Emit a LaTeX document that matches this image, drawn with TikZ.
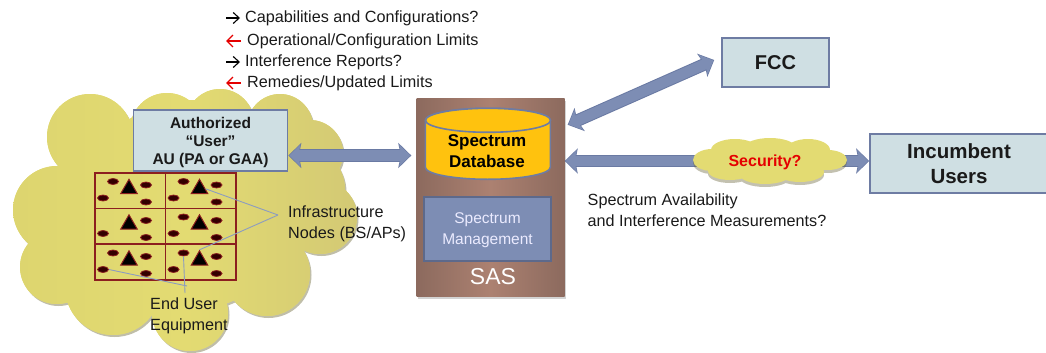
\documentclass[tikz,border=0pt]{standalone}
\usepackage{fontspec}
\setmainfont{Liberation Sans}
\usetikzlibrary{arrows.meta,shapes.geometric,shadows}
\definecolor{inkc}{HTML}{1A1A1A}
\definecolor{boxfill}{HTML}{CFDFE3}
\definecolor{boxedge}{HTML}{6E7CA3}
\definecolor{arrowblue}{HTML}{7D8DB4}
\definecolor{arrowedge}{HTML}{6A7AA3}
\definecolor{cloudL}{HTML}{DDD56F}
\definecolor{cloudM}{HTML}{E3DB72}
\definecolor{cloudR}{HTML}{D3C974}
\definecolor{gridred}{HTML}{8C1F1F}
\definecolor{leader}{HTML}{8C9CC0}
\definecolor{brownA}{HTML}{8C6A5E}
\definecolor{brownB}{HTML}{AC8171}
\definecolor{dbgold}{HTML}{FFC20E}
\tikzset{
  x=1pt,y=-1pt,
  lab/.style={font=\fontsize{16.2}{21}\selectfont,text=inkc,inner sep=0pt,align=left},
  toplab/.style={lab,anchor=west},
  plainbox/.style={draw=boxedge,line width=1.6pt,fill=boxfill,inner sep=0pt,font=\bfseries,text=inkc,align=center},
  blockedge/.style={draw=arrowedge,line width=12.5pt,
    {Stealth[width=25pt,length=13pt,inset=2.5pt,fill=arrowedge]}-{Stealth[width=25pt,length=13pt,inset=2.5pt,fill=arrowedge]}},
  blockarrow/.style={draw=arrowblue,line width=10.5pt,shorten <=1pt,shorten >=1pt,
    {Stealth[width=21.5pt,length=11pt,inset=2.2pt,fill=arrowblue]}-{Stealth[width=21.5pt,length=11pt,inset=2.2pt,fill=arrowblue]}},
  thin arrow black/.style={draw=black,line width=1.1pt,-{Straight Barb[length=6pt,width=11pt]}},
  thin arrow red/.style={draw=red!90!black,line width=1.3pt,-{Straight Barb[length=6pt,width=12pt]}},
  leaderline/.style={draw=leader,line width=.9pt},
  tri/.style={regular polygon,regular polygon sides=3,minimum size=19pt,inner sep=0pt,fill=black,draw=gridred,line width=1pt},
  ue/.style={ellipse,minimum width=11pt,minimum height=6pt,inner sep=0pt,fill=black!80!red,draw=gridred,line width=.8pt},
  cell/.style={rectangle,draw=gridred,line width=1.5pt,inner sep=0pt,minimum width=70.5pt,minimum height=35.5pt,anchor=north west},
}
\begin{document}
\begin{tikzpicture}
\useasboundingbox (0,0) rectangle (1046,353);
% big cloud shadow and body
\fill[black!45!cloudR,opacity=.45,xshift=1.5pt,yshift=-2pt]
  (90,137) circle[radius=43] (167,130) circle[radius=37] (220,123) circle[radius=34]
  (280,127) circle[radius=33] (310,153) circle[radius=33] (320,217) circle[radius=37]
  (267,273) circle[radius=43] (190,313) circle[radius=38] (113,287) circle[radius=48]
  (57,267) circle[radius=37] (57,210) circle[radius=44] (190,205) circle[radius=105]
  (90,225) circle[radius=45] (300,190) circle[radius=45];
\fill[cloudM]
  (90,137) circle[radius=43] (167,130) circle[radius=37] (220,123) circle[radius=34]
  (280,127) circle[radius=33] (310,153) circle[radius=33] (320,217) circle[radius=37]
  (267,273) circle[radius=43] (190,313) circle[radius=38] (113,287) circle[radius=48]
  (57,267) circle[radius=37] (57,210) circle[radius=44] (190,205) circle[radius=105]
  (90,225) circle[radius=45] (300,190) circle[radius=45];
\shade[left color=cloudL,right color=cloudR,middle color=cloudM]
  (90,137) circle[radius=43] (167,130) circle[radius=37] (220,123) circle[radius=34]
  (280,127) circle[radius=33] (310,153) circle[radius=33] (320,217) circle[radius=37]
  (267,273) circle[radius=43] (190,313) circle[radius=38] (113,287) circle[radius=48]
  (57,267) circle[radius=37] (57,210) circle[radius=44] (190,205) circle[radius=105]
  (90,225) circle[radius=45] (300,190) circle[radius=45];
% top text
\coordinate (a1s) at (226,18); \coordinate (a1e) at (240,18);
\coordinate (a2s) at (241,41); \coordinate (a2e) at (226,41);
\coordinate (a3s) at (226,62); \coordinate (a3e) at (240,62);
\coordinate (a4s) at (241,83); \coordinate (a4e) at (226,83);
\draw[thin arrow black] (a1s) -- (a1e);
\draw[thin arrow red] (a2s) -- (a2e);
\draw[thin arrow black] (a3s) -- (a3e);
\draw[thin arrow red] (a4s) -- (a4e);
\node[toplab] (t1) at (245,18) {Capabilities and Configurations?};
\node[toplab] (t2) at (247,41) {Operational/Configuration Limits};
\node[toplab] (t3) at (245,62) {Interference Reports?};
\node[toplab] (t4) at (247,83) {Remedies/Updated Limits};
% grid
\foreach \cx/\cy/\nm in {94/172/a,164.5/172/b,94/207.5/c,164.5/207.5/d,94/243.5/e,164.5/243.5/f}{
  \node[cell] (cell\nm) at (\cx,\cy) {};
  \node[tri] (tri\nm) at (\cx+35,\cy+16.8) {};
  \node[ue] (ue\nm1) at (\cx+9,\cy+26) {};
  \node[ue] (ue\nm2) at (\cx+52,\cy+13) {};
  \node[ue] (ue\nm3) at (\cx+52,\cy+30) {};
}
\foreach \cx/\cy/\nm in {94/172/a,164.5/172/b,164.5/207.5/d,94/243.5/e,164.5/243.5/f}{
  \node[ue] (ue\nm4) at (\cx+19,\cy+9.5) {};
}
% AU box
\node[plainbox,minimum width=154pt,minimum height=61pt] (au) at (210.5,140.5) {};
\node[font=\fontsize{15.5}{18}\bfseries\selectfont,text=inkc,align=center,inner sep=0pt] (aut) at (210.5,142) {Authorized\\“User”\\AU (PA or GAA)};
% labels on cloud
\node[lab,anchor=north west] (infra) at (288,206) {Infrastructure\\Nodes (BS/APs)};
\node[lab,anchor=north west] (endu) at (150,298) {End User\\Equipment};
\coordinate (infraFan) at (278,215);
\coordinate (ueFanA) at (187,286);
\coordinate (ueFanB) at (185,293);
\draw[leaderline] (trib.east) -- (infraFan);
\draw[leaderline] (trif.north) -- (infraFan);
\draw[leaderline] (uee1.east) -- (ueFanA);
\draw[leaderline] (uef4.south) -- (ueFanB);
% SAS
\node[rectangle,minimum width=148pt,minimum height=198pt,inner sep=0pt,
  left color=brownA,right color=brownA,middle color=brownB,
  drop shadow={shadow xshift=1pt,shadow yshift=-2.5pt,opacity=.35}] (sas) at (490.5,197) {};
\node[rectangle,minimum width=125pt,minimum height=71pt,inner sep=0pt] (db) at (488,144) {};
\draw[boxedge,line width=1.6pt,fill=dbgold]
  (db.north west) ++(0,12) -- ++(0,47)
  arc[start angle=180,end angle=360,x radius=62.5,y radius=-12]
  -- ++(0,-47) arc[start angle=360,end angle=180,x radius=62.5,y radius=12] -- cycle;
\draw[boxedge,line width=1.6pt,fill=dbgold] (db.north) ++(0,12) ellipse[x radius=62.5,y radius=12];
\node[font=\fontsize{17}{21}\bfseries\selectfont,text=black,inner sep=0pt,align=center] (dbt) at (487,151) {Spectrum\\Database};
\node[rectangle,draw=boxedge!85!black,line width=1.8pt,fill=arrowblue,minimum width=127pt,minimum height=64pt,inner sep=0pt] (mgmt) at (487.5,229) {};
\node[text=white!92!blue,font=\fontsize{15.5}{21}\selectfont,align=center,inner sep=0pt] (mgmtt) at (487.5,230) {Spectrum\\Management};
\node[text=white,font=\fontsize{23}{24}\selectfont,inner sep=0pt] (sast) at (493,277) {SAS};
% FCC and incumbent
\node[plainbox,minimum width=107pt,minimum height=49pt,font=\fontsize{20}{24}\bfseries\selectfont] (fcc) at (775.5,62.5) {FCC};
\node[plainbox,minimum width=178pt,minimum height=59pt,font=\fontsize{20.5}{25}\bfseries\selectfont] (inc) at (959,163.5) {Incumbent\\Users};
% block connectors
\coordinate (auEnd) at ([xshift=-5pt]sas.west |- au.east);
\coordinate (fccA) at ([shift={(3,27)}]sas.north east);
\coordinate (fccB) at ([shift={(-7,-2.5)}]fcc.west);
\coordinate (secA) at (sas.east |- 0,161);
\coordinate (secB) at (inc.west |- 0,161);
\draw[blockedge] ([yshift=-15pt]au.east) -- ([yshift=-15pt]auEnd);
\draw[blockarrow] ([yshift=-15pt]au.east) -- ([yshift=-15pt]auEnd);
\draw[blockedge] (fccA) -- (fccB);
\draw[blockarrow] (fccA) -- (fccB);
\draw[blockedge] (secA) -- (secB);
\draw[blockarrow] (secA) -- (secB);
% security cloud
\fill[black!50!cloudR,opacity=.4,yshift=-3pt]
  (712,160) ellipse[x radius=19,y radius=11] (735,150) ellipse[x radius=24,y radius=11]
  (770,148) ellipse[x radius=26,y radius=10] (808,150) ellipse[x radius=22,y radius=11]
  (828,160) ellipse[x radius=19,y radius=10] (800,172) ellipse[x radius=24,y radius=10]
  (765,174) ellipse[x radius=26,y radius=10] (730,171) ellipse[x radius=22,y radius=9]
  (770,161) ellipse[x radius=66,y radius=15];
\fill[cloudM]
  (712,160) ellipse[x radius=19,y radius=11] (735,150) ellipse[x radius=24,y radius=11]
  (770,148) ellipse[x radius=26,y radius=10] (808,150) ellipse[x radius=22,y radius=11]
  (828,160) ellipse[x radius=19,y radius=10] (800,172) ellipse[x radius=24,y radius=10]
  (765,174) ellipse[x radius=26,y radius=10] (730,171) ellipse[x radius=22,y radius=9]
  (770,161) ellipse[x radius=66,y radius=15];
\node[text=red!90!black,font=\fontsize{16}{18}\bfseries\selectfont,inner sep=0pt] (sect) at (765,162) {Security?};
\node[lab,anchor=north west] (avail) at (587.5,194) {Spectrum Availability\\and Interference Measurements?};
\end{tikzpicture}
\end{document}
